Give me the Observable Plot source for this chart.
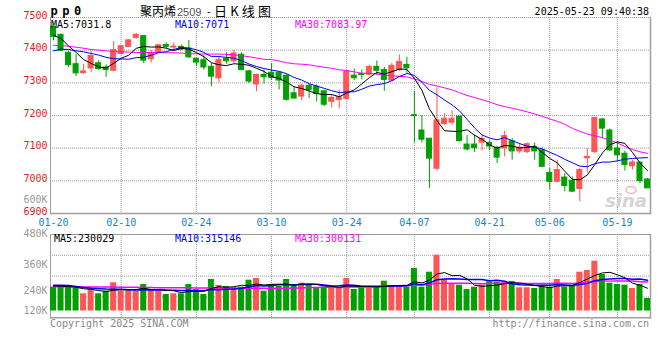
<!DOCTYPE html>
<html><head><meta charset="utf-8">
<script src="https://cdn.jsdelivr.net/npm/d3@7"></script>
<script src="https://cdn.jsdelivr.net/npm/@observablehq/plot@0.6"></script>
<style>
body{margin:0;background:#fff;}
#wrap{position:relative;width:660px;height:360px;overflow:hidden;background:#fff;}
#wrap svg{position:absolute;left:0;}
</style></head><body><div id="wrap"></div>
<script>
// ---- data ----
const dates = ["01-20","01-21","01-22","01-23","01-24","01-27","02-05","02-06","02-07",
"02-10","02-11","02-12","02-13","02-14","02-17","02-18","02-19","02-20","02-21",
"02-24","02-25","02-26","02-27","02-28","03-03","03-04","03-05","03-06","03-07",
"03-10","03-11","03-12","03-13","03-14","03-17","03-18","03-19","03-20","03-21",
"03-24","03-25","03-26","03-27","03-28","03-31","04-01","04-02","04-03",
"04-07","04-08","04-09","04-10","04-11","04-14","04-15","04-16","04-17","04-18",
"04-21","04-22","04-23","04-24","04-25","04-28","04-29","04-30",
"05-06","05-07","05-08","05-09","05-12","05-13","05-14","05-15","05-16",
"05-19","05-20","05-21","05-22","05-23"];
const open = [7471,7447,7392,7357,7330,7344,7360,7347,7337,7388,
7410,7437,7443,7372,7394,7416,7408,7410,7405,7374,
7369,7349,7314,7373,7366,7386,7335,7295,7324,7331,
7331,7322,7268,7258,7291,7288,7274,7242,7247,7251,
7322,7327,7325,7349,7339,7307,7339,7355,7201,7154,
7129,7037,7174,7178,7197,7111,7111,7117,7116,7101,
7099,7121,7090,7088,7104,7093,7024,6997,7010,7000,
6975,7069,7088,7188,7154,7099,7083,7045,7056,7004];
const high = [7477,7449,7396,7386,7357,7396,7368,7355,7426,7414,
7432,7451,7443,7400,7416,7422,7422,7416,7430,7377,
7383,7359,7380,7393,7400,7392,7339,7327,7339,7359,
7333,7324,7288,7296,7296,7294,7278,7264,7278,7337,
7342,7339,7354,7367,7347,7359,7386,7378,7273,7200,
7129,7285,7205,7215,7197,7139,7139,7140,7123,7106,
7152,7129,7114,7116,7116,7101,7038,7063,7022,7012,
7038,7098,7193,7190,7159,7119,7091,7063,7056,7007];
const low = [7428,7396,7347,7319,7325,7331,7339,7317,7335,7386,
7408,7434,7359,7361,7390,7404,7400,7398,7374,7350,
7339,7288,7300,7357,7360,7337,7298,7273,7296,7307,
7278,7244,7250,7246,7252,7241,7227,7223,7221,7248,
7307,7309,7322,7322,7274,7305,7335,7329,7116,7116,
6977,7030,7170,7170,7119,7091,7087,7091,7093,7053,
7073,7063,7083,7083,7063,7041,6972,6994,6967,6964,
6936,7024,7083,7129,7091,7060,7030,7033,6992,6977];
const close = [7441,7398,7354,7329,7335,7382,7342,7339,7400,7412,
7430,7447,7368,7390,7415,7410,7411,7402,7378,7362,
7347,7319,7370,7366,7390,7339,7304,7324,7317,7315,
7307,7248,7252,7291,7278,7266,7233,7254,7256,7335,
7314,7324,7349,7337,7309,7352,7364,7345,7198,7126,
7068,7185,7190,7190,7122,7096,7100,7128,7105,7071,
7137,7090,7101,7112,7090,7043,6997,7033,6984,6967,
7033,7073,7193,7160,7093,7078,7048,7056,6999,6977];
const volume = [242800,242800,242800,229500,175400,216200,175400,202000,287600,202000,
202000,202000,270300,216200,202000,168300,175400,175400,270300,216200,
168300,321300,260100,249900,236600,242800,314200,331500,202000,270300,
249900,321300,249900,283600,270300,229500,242800,236600,229500,331500,
219300,236600,236600,249900,304000,260100,253000,242800,433500,242800,
395800,569200,321300,270300,263200,219300,242800,263200,297800,293800,
293800,300900,236600,236600,229500,242800,242800,321300,242800,253000,
395800,413100,508000,372300,283600,270300,263200,229500,270300,127500];
// moving-average values before the window fills
const ma5Head = [7445,7436,7413,7393];
const ma10Head = [7398,7403,7402,7398,7395,7390,7385,7378,7374];
const ma30Head = [7415,7414,7412,7409,7406,7402,7400,7398,7396,7395,7394,7393,7393,7393,7393,
7392,7392,7391,7389,7389,7388,7388,7388,7387,7386,7383,7380,7376,7372];
const volMa5Head = [255000,252000,248000,242000];
const volMa10Head = [263000,262000,260000,250000,240000,232000,228000,224000,222000];
const volMa30Head = [248000,248000,247000,247000,246000,246000,245000,245000,244000,243000,
242000,241000,240000,239000,238000,238000,237000,236000,236000,235000,
235000,234000,234000,233000,233000,232000,232000,231000,231000];
const priceTicks = [6900,7000,7100,7200,7300,7400,7500];
const dateTicks = ["01-20","02-10","02-24","03-10","03-24","04-07","04-21","05-06","05-19"];
const volLabelTicks = [120000,240000,360000,480000,600000];
const header = {code:"pp0", name:"聚丙烯", contract:"2509", kind:"日K线图", time:"2025-05-23 09:40:38"};
const priceMaText = ["MA5:7031.8","MA10:7071","MA30:7083.97"];
const volMaText = ["MA5:230029","MA10:315146","MA30:300131"];

// ---- styles ----
const RED = "#ff5555", GREEN = "#00a000", GRID = "#9a9a9a", BORDER = "#a0a0a0";
const MONO = "'DejaVu Sans Mono', monospace";

function movingAvg(arr, n, head){
  return arr.map((_, i) => i < n - 1 ? head[i] : d3.mean(arr.slice(i - n + 1, i + 1)));
}
const ma5 = movingAvg(close, 5, ma5Head), ma10 = movingAvg(close, 10, ma10Head), ma30 = movingAvg(close, 30, ma30Head);
const vma5 = movingAvg(volume, 5, volMa5Head), vma10 = movingAvg(volume, 10, volMa10Head), vma30 = movingAvg(volume, 30, volMa30Head);
const rows = dates.map((d, i) => ({
  date: d, open: open[i], high: high[i], low: low[i], close: close[i], volume: volume[i],
  color: close[i] >= open[i] ? RED : GREEN,
  ma5: ma5[i], ma10: ma10[i], ma30: ma30[i], vma5: vma5[i], vma10: vma10[i], vma30: vma30[i]
}));

const xScale = {type: "band", domain: dates, paddingInner: 0.2, paddingOuter: 0, align: 0};
const dotted = {stroke: GRID, strokeOpacity: 1, strokeDasharray: "1,1"};
const baseStyle = {background: "transparent", fontFamily: MONO, fontSize: "10px", overflow: "visible"};

const wrap = document.getElementById("wrap");

// ---- price panel ----
const pricePlot = Plot.plot({
  width: 660, height: 232,
  marginTop: 17, marginBottom: 19, marginLeft: 50, marginRight: 10,
  style: baseStyle,
  x: xScale,
  y: {domain: [priceTicks[0], priceTicks[priceTicks.length - 1]]},
  color: {type: "identity"},
  marks: [
    Plot.gridY(priceTicks.slice(1, -1), dotted),
    Plot.gridX(dateTicks.slice(1), dotted),
    Plot.ruleY([priceTicks[priceTicks.length - 1]], dotted),
    Plot.frame({anchor: "left", stroke: BORDER}),
    Plot.frame({anchor: "right", stroke: BORDER, strokeWidth: 1.5}),
    Plot.frame({anchor: "bottom", stroke: BORDER, strokeWidth: 1.5}),
    Plot.ruleX(rows, {x: "date", y1: "low", y2: "high", stroke: "color"}),
    Plot.barY(rows, {x: "date", y1: "open", y2: "close", fill: "color", stroke: "color", insetLeft: 0.5, insetRight: 0.5}),
    Plot.line(rows, {x: "date", y: "ma30", stroke: "#ff00ff", strokeWidth: 1}),
    Plot.line(rows, {x: "date", y: "ma10", stroke: "#0000ff", strokeWidth: 1}),
    Plot.line(rows, {x: "date", y: "ma5", stroke: "#000000", strokeWidth: 1}),
    Plot.axisY(priceTicks, {tickSize: 0, tickPadding: 3, dy: -2, color: "#e41b1b", label: null, tickFormat: d => String(d)}),
    Plot.axisX(dateTicks, {tickSize: 0, tickPadding: 5, color: "#1a82c8", label: null})
  ]
});
pricePlot.style.top = "0px";
wrap.appendChild(pricePlot);

// ---- volume panel ----
const volDomain = [-69360, 780300];
const volGrid = [0.25, 0.5, 0.75].map(f => volDomain[0] + (volDomain[1] - volDomain[0]) * f);
const volPlot = Plot.plot({
  width: 660, height: 90,
  marginTop: 2, marginBottom: 4.7, marginLeft: 50, marginRight: 10,
  style: baseStyle,
  x: {...xScale, axis: null},
  y: {domain: volDomain, axis: null},
  color: {type: "identity"},
  marks: [
    Plot.gridY(volGrid, dotted),
    Plot.gridX(dateTicks.slice(1), dotted),
    Plot.frame({anchor: "top", ...dotted}),
    Plot.frame({anchor: "left", stroke: BORDER}),
    Plot.frame({anchor: "right", stroke: BORDER, strokeWidth: 1.5}),
    Plot.frame({anchor: "bottom", stroke: BORDER, strokeWidth: 1.5}),
    Plot.barY(rows, {x: "date", y: "volume", fill: "color"}),
    Plot.line(rows, {x: "date", y: "vma30", stroke: "#ff00ff", strokeWidth: 1.5}),
    Plot.line(rows, {x: "date", y: "vma10", stroke: "#0000ff", strokeWidth: 1.5}),
    Plot.line(rows, {x: "date", y: "vma5", stroke: "#000000", strokeWidth: 1})
  ]
});
volPlot.style.top = "232px";
wrap.appendChild(volPlot);

// ---- volume axis labels (spaced as the source prints them) ----
const volLab = Plot.plot({
  width: 50, height: 135,
  marginTop: 9, marginBottom: 15, marginLeft: 47, marginRight: 3,
  style: baseStyle,
  y: {type: "pow", exponent: 1.5, domain: [volLabelTicks[0], volLabelTicks[volLabelTicks.length - 1]]},
  marks: [
    Plot.axisY(volLabelTicks, {tickSize: 0, tickPadding: 0, color: "#999", label: null, tickFormat: d => d / 1000 + "K"})
  ]
});
volLab.style.top = "190px";
wrap.appendChild(volLab);

// ---- header / footer texts ----
const svg = d3.create("svg").attr("width", 660).attr("height", 360).style("top", "0px")
  .style("font-family", MONO).style("font-size", "10px");
svg.append("text").attr("x", 50.5).attr("y", 14.5).attr("font-size", 12).attr("font-weight", "bold")
  .attr("letter-spacing", 4.5).attr("fill", "#000").text(header.code);
const cjk = "'Noto Sans CJK SC', sans-serif";
svg.append("text").attr("x", 140).attr("y", 15.5).attr("font-family", cjk).attr("font-size", 12).attr("fill", "#000").text(header.name);
svg.append("text").attr("x", 177).attr("y", 15.5).attr("font-family", "'Liberation Sans', sans-serif").attr("font-size", 11).attr("fill", "#555").text(header.contract);
svg.append("text").attr("x", 207).attr("y", 15).attr("font-family", "'Liberation Sans', sans-serif").attr("font-size", 11).attr("fill", "#000").text("-");
svg.append("text").attr("x", 214).attr("y", 15.5).attr("font-family", cjk).attr("font-size", 13).attr("letter-spacing", 3.2).attr("fill", "#000").text(header.kind);
svg.append("text").attr("x", 649).attr("y", 15.3).attr("text-anchor", "end").attr("fill", "#000").text(header.time);

const maColors = ["#000000", "#0000ff", "#ff00ff"];
const maX = [51, 175, 295];
priceMaText.forEach((t, i) => svg.append("text").attr("x", maX[i]).attr("y", 27.6).attr("fill", maColors[i]).text(t));
volMaText.forEach((t, i) => svg.append("text").attr("x", i === 0 ? 54 : maX[i]).attr("y", 242.3).attr("fill", maColors[i]).text(t));

svg.append("text").attr("x", 50).attr("y", 326.8).attr("fill", "#888").text("Copyright 2025 SINA.COM");
svg.append("text").attr("x", 649).attr("y", 326.8).attr("text-anchor", "end").attr("fill", "#888").text("http://finance.sina.com.cn");

// sina watermark
svg.append("ellipse").attr("cx", 631).attr("cy", 190).attr("rx", 5).attr("ry", 3.5)
  .attr("fill", "none").attr("stroke", "#f2b4b4").attr("stroke-width", 1.5);
svg.append("text").attr("x", 647).attr("y", 207).attr("text-anchor", "end")
  .attr("font-family", "'DejaVu Sans', sans-serif").attr("font-style", "italic").attr("font-weight", "bold")
  .attr("font-size", 18).attr("fill", "#d4d4d4").text("sina");

wrap.appendChild(svg.node());
</script></body></html>
